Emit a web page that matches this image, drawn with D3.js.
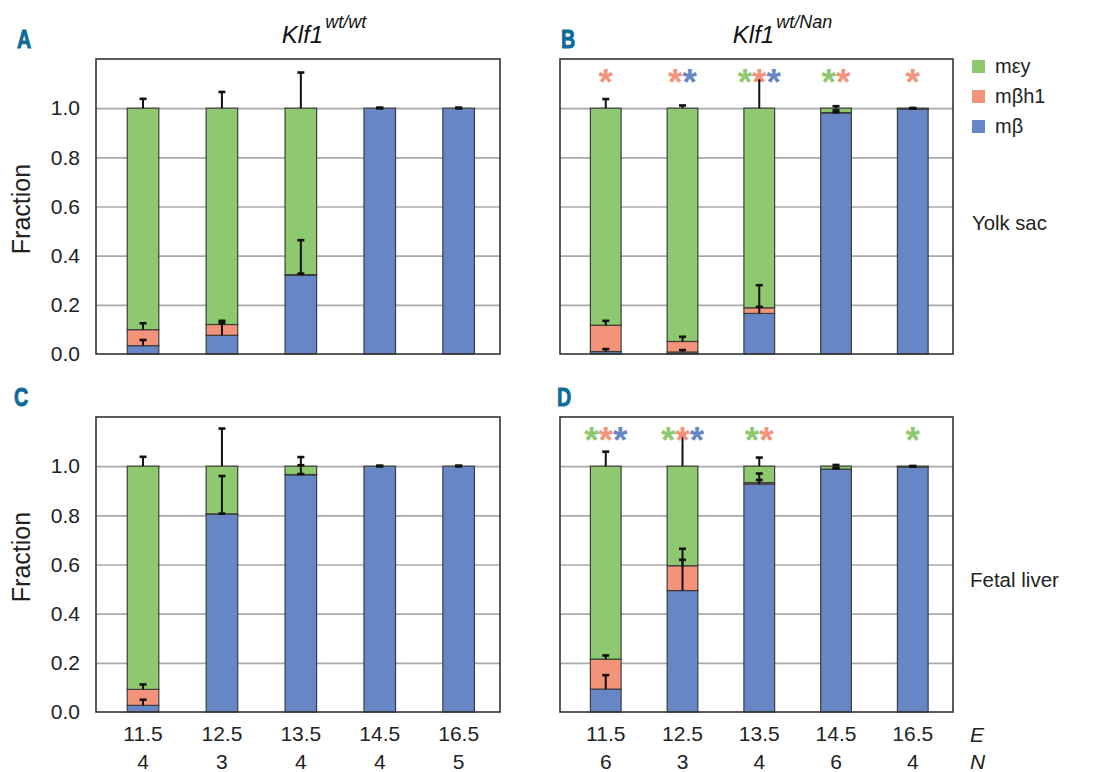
<!DOCTYPE html>
<html><head><meta charset="utf-8">
<script src="https://cdn.jsdelivr.net/npm/d3@7"></script>
<style>
html,body{margin:0;padding:0;background:#fff;}
svg{display:block;}
text{font-family:"Liberation Sans",Arial,sans-serif;}
</style></head>
<body>
<svg id="chart" width="1117" height="772"></svg>
<script>
// ---------- data ----------
const categories = ["11.5","12.5","13.5","14.5","16.5"];
const nWt = [4,3,4,4,5];
const nNan = [6,3,4,6,4];
const seriesKeys = ["mb","mbh1","mey"];
const legendKeys = ["mey","mbh1","mb"];
const seriesLabels = {mey:"mεy", mbh1:"mβh1", mb:"mβ"};
const seriesColors = {mb:"#6686c6", mbh1:"#f3937a", mey:"#8ec96f"};
const yTicks = [0,0.2,0.4,0.6,0.8,1.0];

// Yolk sac, Klf1 wt/wt
const ysWtMb   = [0.034,0.076,0.320,1.000,1.000];
const ysWtMbh1 = [0.065,0.044,0.003,0.000,0.000];
const ysWtMey  = [0.901,0.880,0.677,0.000,0.000];
const ysWtMbSd   = [0.023,0.049,0.143,0.002,0.002];
const ysWtMbh1Sd = [0.026,0.015,0.004,0.000,0.000];
const ysWtMeySd  = [0.038,0.066,0.145,0.000,0.000];

// Yolk sac, Klf1 wt/Nan
const ysNanMb   = [0.010,0.008,0.165,0.981,0.997];
const ysNanMbh1 = [0.107,0.043,0.023,0.001,0.001];
const ysNanMey  = [0.883,0.949,0.812,0.018,0.002];
const ysNanMbSd   = [0.010,0.008,0.115,0.010,0.002];
const ysNanMbh1Sd = [0.018,0.019,0.004,0.001,0.001];
const ysNanMeySd  = [0.037,0.011,0.115,0.008,0.001];

// Fetal liver, Klf1 wt/wt
const flWtMb   = [0.027,0.805,0.965,1.000,1.000];
const flWtMbh1 = [0.065,0.001,0.001,0.000,0.000];
const flWtMey  = [0.908,0.194,0.034,0.000,0.000];
const flWtMbSd   = [0.023,0.155,0.039,0.002,0.002];
const flWtMbh1Sd = [0.020,0.001,0.002,0.000,0.000];
const flWtMeySd  = [0.038,0.153,0.037,0.000,0.000];

// Fetal liver, Klf1 wt/Nan
const flNanMb   = [0.093,0.494,0.927,0.988,0.997];
const flNanMbh1 = [0.122,0.101,0.006,0.000,0.001];
const flNanMey  = [0.785,0.405,0.067,0.012,0.002];
const flNanMbSd   = [0.057,0.125,0.043,0.005,0.002];
const flNanMbh1Sd = [0.015,0.069,0.011,0.003,0.001];
const flNanMeySd  = [0.059,0.130,0.035,0.005,0.001];

// significance markers (per category)
const sigYsNan = [["mbh1"],["mbh1","mb"],["mey","mbh1","mb"],["mey","mbh1"],["mbh1"]];
const sigFlNan = [["mey","mbh1","mb"],["mey","mbh1","mb"],["mey","mbh1"],[],["mey"]];

// ---------- layout ----------
const svg = d3.select("#chart");
const panels = [
  {letter:"A", x0:96,  x1:500, y0:59,  y1:354, mb:ysWtMb, mbh1:ysWtMbh1, mey:ysWtMey,
   sd:{mb:ysWtMbSd, mbh1:ysWtMbh1Sd, mey:ysWtMeySd}, yLabels:true, fracCy:209, title:"wt/wt", lx:17},
  {letter:"B", x0:560, x1:953, y0:59,  y1:354, mb:ysNanMb, mbh1:ysNanMbh1, mey:ysNanMey,
   sd:{mb:ysNanMbSd, mbh1:ysNanMbh1Sd, mey:ysNanMeySd}, yLabels:false, title:"wt/Nan", sig:sigYsNan, lx:561},
  {letter:"C", x0:96,  x1:500, y0:417, y1:712, mb:flWtMb, mbh1:flWtMbh1, mey:flWtMey,
   sd:{mb:flWtMbSd, mbh1:flWtMbh1Sd, mey:flWtMeySd}, yLabels:true, fracCy:557, n:nWt, lx:14},
  {letter:"D", x0:560, x1:953, y0:417, y1:712, mb:flNanMb, mbh1:flNanMbh1, mey:flNanMey,
   sd:{mb:flNanMbSd, mbh1:flNanMbh1Sd, mey:flNanMeySd}, yLabels:false, sig:sigFlNan, n:nNan, lx:557}
];

panels.forEach(p => {
  const g = svg.append("g");
  const x = d3.scaleBand().domain(categories).range([p.x0, p.x1])
              .paddingInner(0.6).paddingOuter(0.36).align(0.55);
  const y = d3.scaleLinear().domain([0, 1.2]).range([p.y1, p.y0]);

  // gridlines
  g.append("g").attr("transform", `translate(${p.x0},0)`)
    .call(d3.axisLeft(y).tickValues(yTicks.slice(1)).tickSize(-(p.x1 - p.x0)).tickFormat(""))
    .call(a => a.select(".domain").remove())
    .selectAll("line").attr("stroke", "#a9a9a9").attr("stroke-width", 1.6);

  // y tick labels
  if (p.yLabels) {
    const ax = g.append("g").attr("transform", `translate(${p.x0 - 16},0)`)
      .call(d3.axisLeft(y).tickValues(yTicks).tickSize(0).tickPadding(0).tickFormat(d3.format(".1f")));
    ax.select(".domain").remove();
    ax.selectAll("text").attr("font-size", 21).attr("fill", "#222")
      .attr("font-family", "'Liberation Sans',Arial,sans-serif");
    g.append("text")
      .attr("transform", `translate(${p.x0 - 66},${p.fracCy}) rotate(-90)`)
      .attr("text-anchor", "middle").attr("font-size", 25).attr("fill", "#222")
      .text("Fraction");
  }

  // stacked bars
  const rows = categories.map((c, i) => ({cat: c, mb: p.mb[i], mbh1: p.mbh1[i], mey: p.mey[i]}));
  const stacked = d3.stack().keys(seriesKeys)(rows);
  g.append("g").selectAll("g").data(stacked).join("g")
    .attr("fill", s => seriesColors[s.key])
    .selectAll("rect").data(s => s).join("rect")
    .attr("x", d => x(d.data.cat))
    .attr("width", x.bandwidth())
    .attr("y", d => y(d[1]))
    .attr("height", d => Math.max(0, y(d[0]) - y(d[1])))
    .attr("stroke", "#3d3d3d").attr("stroke-width", 1.2);

  // error bars (positive, from top of each segment)
  const eb = g.append("g").attr("stroke", "#111").attr("stroke-width", 2);
  stacked.forEach(s => {
    s.forEach((d, i) => {
      const sd = p.sd[s.key][i];
      const cx = x(d.data.cat) + x.bandwidth() / 2;
      const yTop = y(d[1] + sd), yBase = y(d[1]);
      eb.append("line").attr("x1", cx).attr("x2", cx).attr("y1", yBase).attr("y2", yTop);
      eb.append("line").attr("x1", cx - 3.5).attr("x2", cx + 3.5).attr("y1", yTop).attr("y2", yTop)
        .attr("stroke-width", 2.6);
    });
  });

  // frame
  g.append("rect").attr("x", p.x0).attr("y", p.y0)
    .attr("width", p.x1 - p.x0).attr("height", p.y1 - p.y0)
    .attr("fill", "none").attr("stroke", "#333").attr("stroke-width", 1.6);

  // significance asterisks
  if (p.sig) {
    p.sig.forEach((keys, i) => {
      if (!keys.length) return;
      const t = g.append("text")
        .attr("x", x(categories[i]) + x.bandwidth() / 2)
        .attr("y", p.y0 + 36).attr("text-anchor", "middle")
        .attr("font-size", 37).attr("font-weight", "bold");
      keys.forEach(k => t.append("tspan").attr("fill", seriesColors[k]).text("*"));
    });
  }

  // x labels
  if (p.n) {
    const ax = g.append("g").attr("transform", `translate(0,${p.y1 + 14})`)
      .call(d3.axisBottom(x).tickSize(0).tickPadding(0));
    ax.select(".domain").remove();
    ax.selectAll("text").attr("font-size", 21).attr("fill", "#222").attr("dy", "0.72em")
      .attr("font-family", "'Liberation Sans',Arial,sans-serif");
    g.append("g").selectAll("text").data(categories).join("text")
      .attr("x", d => x(d) + x.bandwidth() / 2)
      .attr("y", p.y1 + 57).attr("text-anchor", "middle")
      .attr("font-size", 21).attr("fill", "#222")
      .text((d, i) => p.n[i]);
  }

  // panel letter (condensed bold)
  svg.append("text")
    .attr("transform", `translate(${p.lx},${p.y0 - 11}) scale(0.76,1)`)
    .attr("font-family", "'Liberation Sans',Arial,sans-serif")
    .attr("font-weight", "bold").attr("font-size", 26).attr("fill", "#0d6a99")
    .attr("stroke", "#0d6a99").attr("stroke-width", 0.9)
    .text(p.letter);

  // genotype title
  if (p.title) {
    const t = svg.append("text")
      .attr("x", (p.x0 + p.x1) / 2 + 26).attr("y", 43)
      .attr("text-anchor", "middle").attr("font-style", "italic").attr("fill", "#111");
    t.append("tspan").attr("font-size", 24).text("Klf1");
    t.append("tspan").attr("font-size", 18).attr("dy", -15).attr("dx", 2).text(p.title);
  }
});

// legend
const lg = svg.append("g").attr("transform", "translate(972,60)");
legendKeys.forEach((k, i) => {
  lg.append("rect").attr("x", 0).attr("y", i * 30).attr("width", 13).attr("height", 13)
    .attr("fill", seriesColors[k]);
  lg.append("text").attr("x", 23).attr("y", i * 30 + 13).attr("font-size", 20).attr("fill", "#222")
    .text(seriesLabels[k]);
});

// tissue labels
svg.append("text").attr("x", 972).attr("y", 230).attr("font-size", 20.3).attr("fill", "#222").text("Yolk sac");
svg.append("text").attr("x", 970).attr("y", 587).attr("font-size", 20.5).attr("fill", "#222").text("Fetal liver");

// axis row labels
svg.append("text").attr("x", 970).attr("y", 742).attr("font-size", 21).attr("font-style", "italic").attr("fill", "#222").text("E");
svg.append("text").attr("x", 970).attr("y", 769).attr("font-size", 21).attr("font-style", "italic").attr("fill", "#222").text("N");
</script>
</body></html>
